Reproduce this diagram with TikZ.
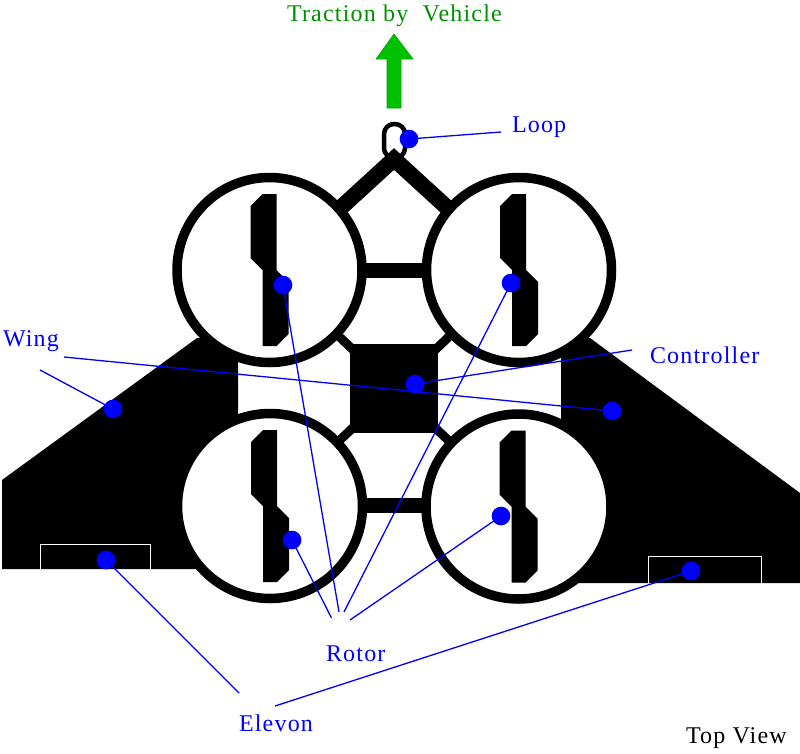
\documentclass[tikz,border=0pt]{standalone}
\usepackage{fontspec}
\setmainfont[LetterSpace=5]{Liberation Serif}
\definecolor{bluelab}{RGB}{0,0,255}
\definecolor{arrowgreen}{RGB}{0,192,0}
\definecolor{textgreen}{RGB}{0,145,0}
\tikzset{
  lab/.style={anchor=base west,inner sep=0pt,outer sep=0pt,font=\fontsize{24}{24}\selectfont,text=bluelab},
  dot/.style={circle,fill=bluelab,inner sep=0pt,minimum size=18.7pt},
  leader/.style={draw=bluelab,line width=1.3pt},
  rotorring/.style={draw=black,fill=white,line width=9.5pt},
  strut/.style={draw=black,line width=9pt},
  elevonbox/.style={draw=white,line width=1.2pt},
}
\newcommand{\bladeat}[2]{%
  \fill[black] (#1-19,#2-64) -- (#1-7,#2-76) -- (#1+7,#2-76) -- (#1+7,#2) -- (#1+19,#2+12)
    -- (#1+19,#2+64) -- (#1+7,#2+76) -- (#1-7,#2+76) -- (#1-7,#2) -- (#1-19,#2-12) -- cycle;}
\begin{document}
\begin{tikzpicture}[x=1pt,y=-1pt]
\useasboundingbox[fill=white] (0,0) rectangle (800,753);
% wings
\fill[black] (2,480) -- (197,338) -- (238,338) -- (238,569) -- (2,569) -- cycle;
\fill[black] (561,338) -- (590,338) -- (800,493) -- (800,583) -- (561,583) -- cycle;
% elevons
\draw[elevonbox] (40.5,569) -- (40.5,544.5) -- (150.5,544.5) -- (150.5,569);
\draw[elevonbox] (648.5,583) -- (648.5,556.5) -- (761.5,556.5) -- (761.5,583);
% centre body and links
\fill[black] (350,344) rectangle (438,433);
\draw[strut] (394,389) -- (269.5,270);
\draw[strut] (394,389) -- (519,270);
\draw[strut] (394,389) -- (270,506);
\draw[strut] (394,389) -- (518.5,506.5);
\draw[black,line width=15pt] (270,270.5) -- (519,270.5);
\draw[black,line width=15pt] (270,505.5) -- (518.5,505.5);
% loop and nose struts
\draw[black,line width=4.5pt,rounded corners=10pt] (384,158) rectangle (405,124);
\draw[black,line width=16pt,miter limit=10] (335,213) -- (394,159) -- (453,213);
% rotors
\draw[rotorring] (269.5,270) circle[radius=92.5];
\draw[rotorring] (519,270) circle[radius=92.5];
\draw[rotorring] (270,506) circle[radius=92.5];
\draw[rotorring] (518.5,506.5) circle[radius=92.5];
\bladeat{269.5}{270}
\bladeat{519}{270}
\bladeat{270}{506}
\bladeat{518.5}{506.5}
% green arrow
\fill[arrowgreen,draw=arrowgreen!85!black,line width=.6pt] (394,34) -- (413,59) -- (401,59) -- (401,108) -- (387,108) -- (387,59) -- (376,59) -- cycle;
% labels
\node[lab,text=textgreen] (traction) at (287,21) {Traction by~ Vehicle};
\node[lab] (looplab) at (512,132) {Loop};
\node[lab] (winglab) at (3,346) {Wing};
\node[lab] (ctrllab) at (650,363) {Controller};
\node[lab] (rotorlab) at (326,661) {Rotor};
\node[lab] (elevonlab) at (239,731) {Elevon};
\node[lab,text=black] (toplab) at (686,743) {Top View};
% leader free ends
\coordinate (loopend) at (501,132);
\coordinate (wingendA) at (40,370);
\coordinate (wingendB) at (64,357);
\coordinate (ctrlend) at (632,350);
\coordinate (rotorendA) at (339,612);
\coordinate (rotorendB) at (344,612);
\coordinate (rotorendC) at (331.5,618);
\coordinate (rotorendD) at (350,620);
\coordinate (elevonendA) at (239,693);
\coordinate (elevonendB) at (275,706);
% dots
\node[dot] (loopdot) at (409,139) {};
\node[dot] (rotA) at (283,285) {};
\node[dot] (rotB) at (511,283) {};
\node[dot] (rotC) at (292,540) {};
\node[dot] (rotD) at (501,516) {};
\node[dot] (ctrldot) at (415,384) {};
\node[dot] (wingL) at (113,409) {};
\node[dot] (wingR) at (612,411) {};
\node[dot] (elevL) at (106,560) {};
\node[dot] (elevR) at (691,571) {};
% leaders
\draw[leader] (loopdot.center) -- (loopend);
\draw[leader] (wingL.center) -- (wingendA);
\draw[leader] (wingR.center) -- (wingendB);
\draw[leader] (ctrldot.center) -- (ctrlend);
\draw[leader] (rotA.center) -- (rotorendA);
\draw[leader] (rotB.center) -- (rotorendB);
\draw[leader] (rotC.center) -- (rotorendC);
\draw[leader] (rotD.center) -- (rotorendD);
\draw[leader] (elevL.center) -- (elevonendA);
\draw[leader] (elevR.center) -- (elevonendB);
\end{tikzpicture}
\end{document}
